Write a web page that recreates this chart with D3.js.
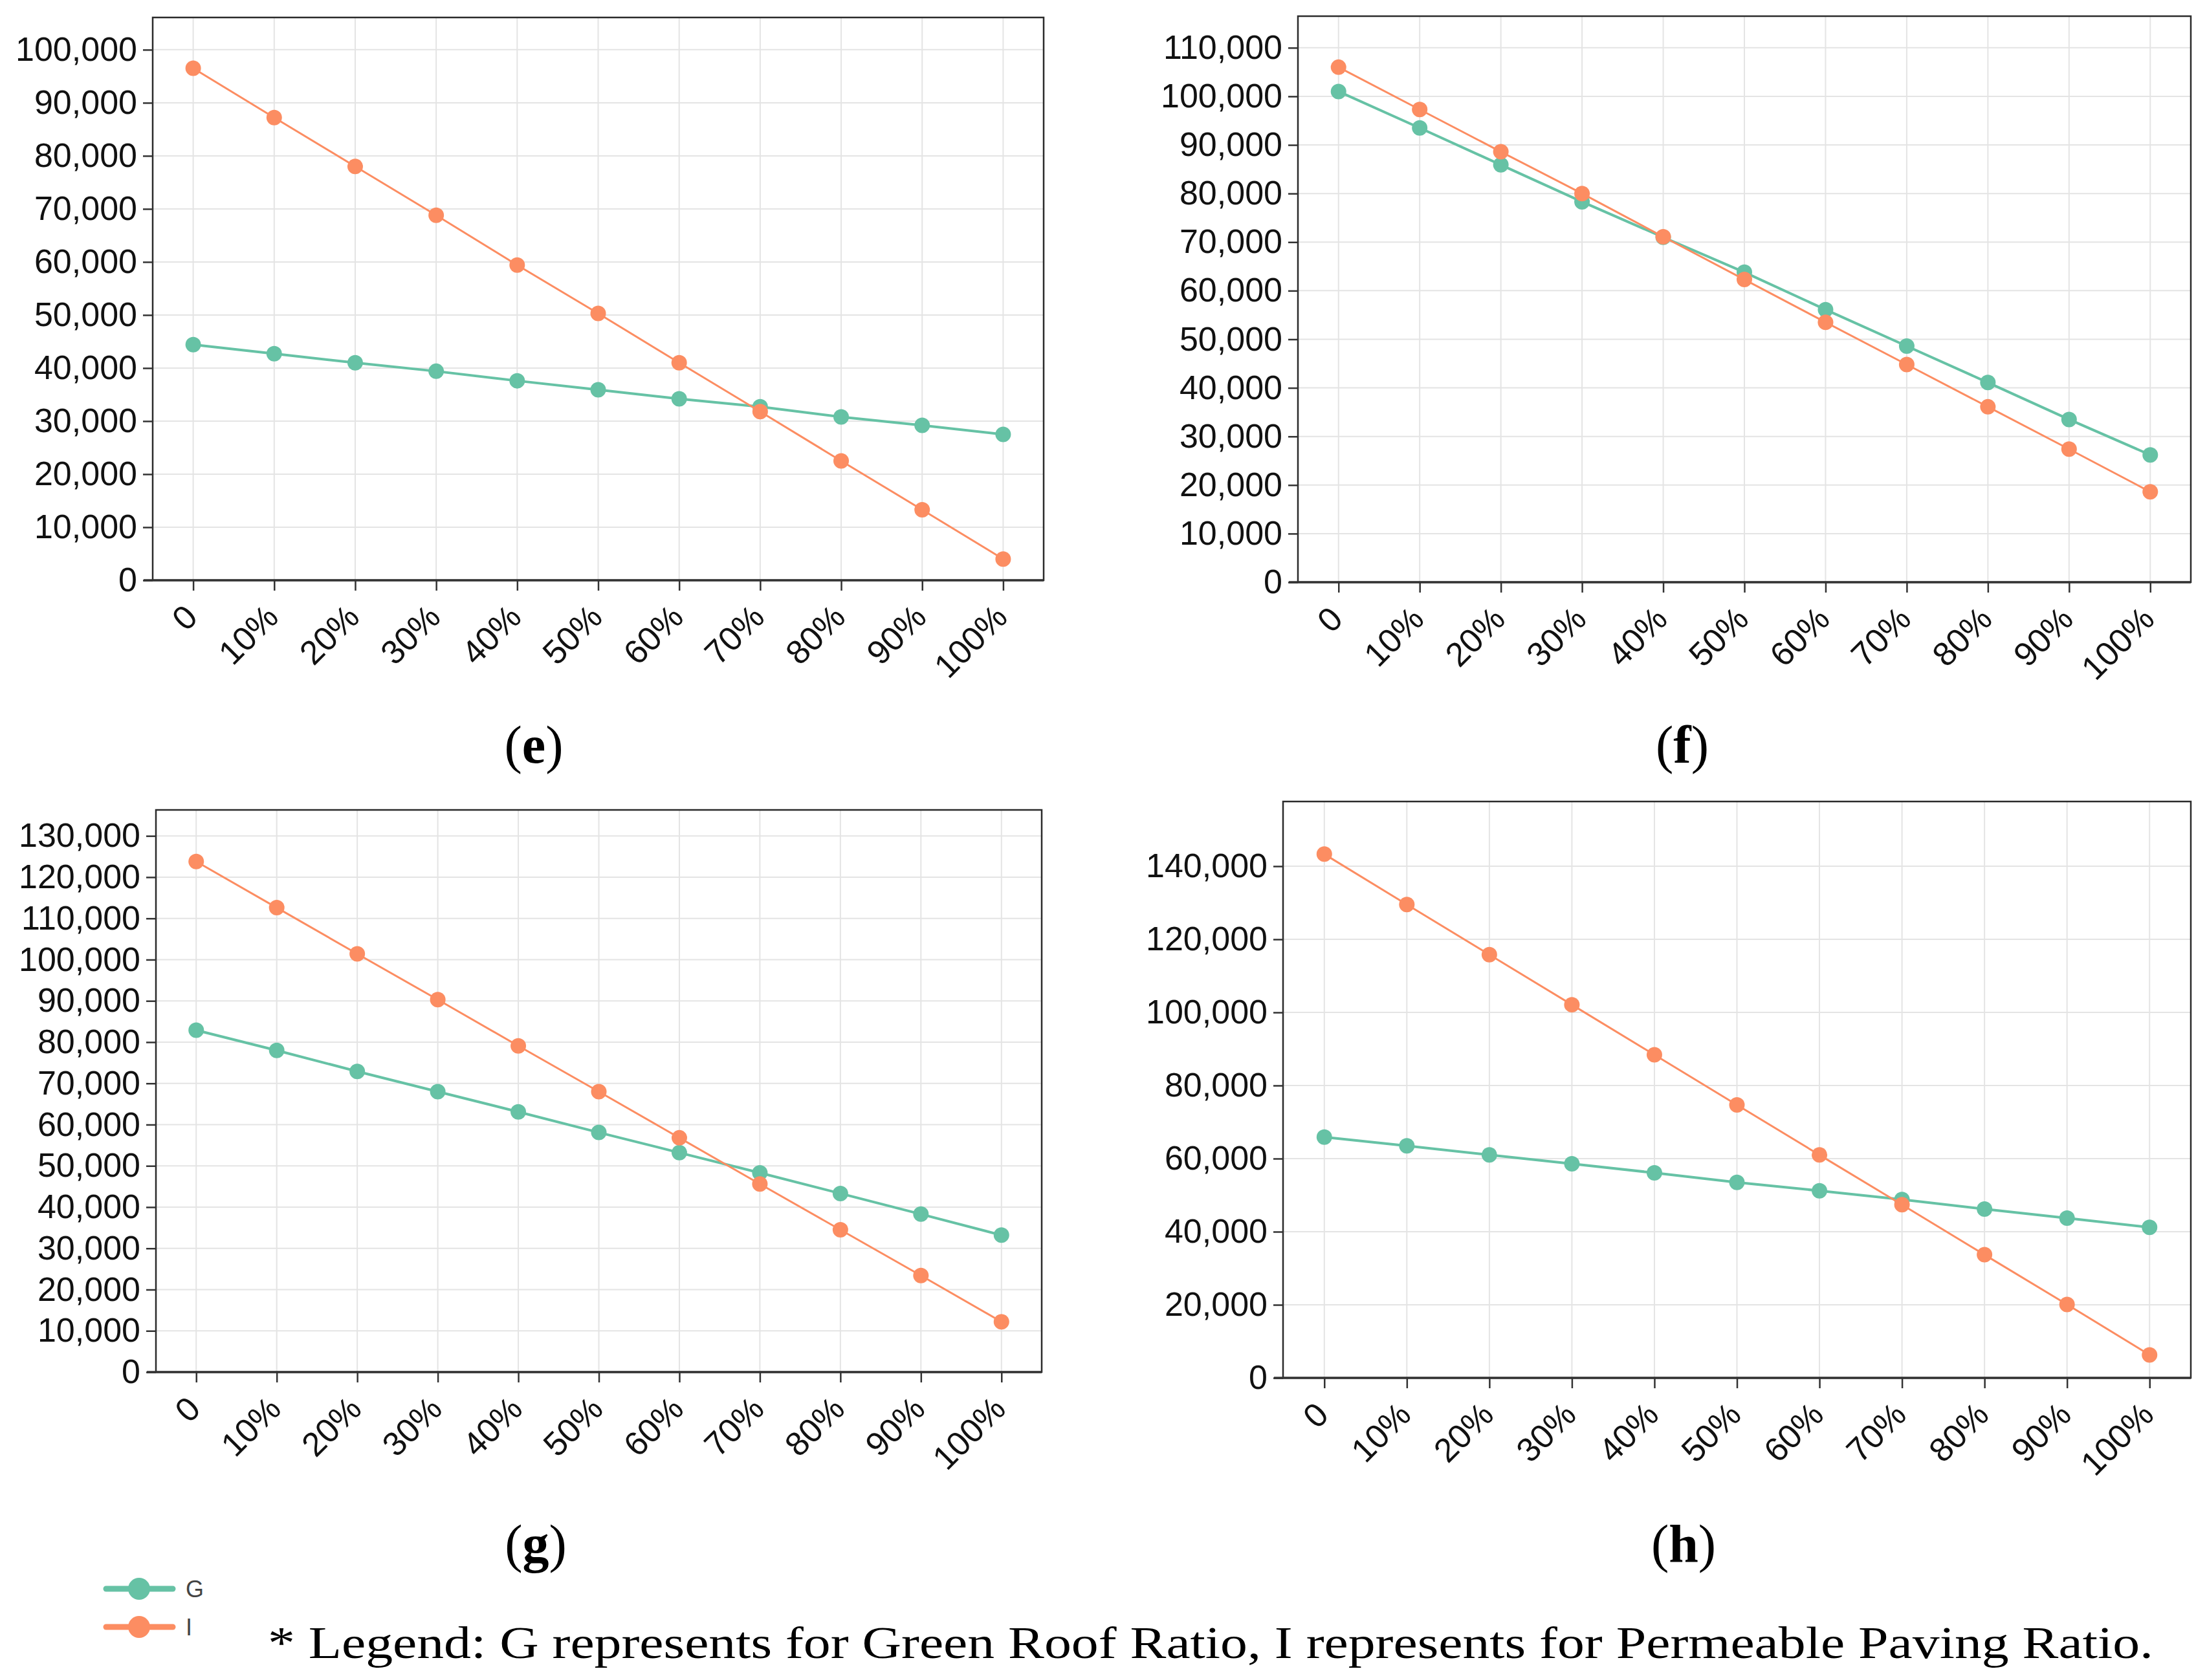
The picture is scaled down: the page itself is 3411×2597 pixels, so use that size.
<!DOCTYPE html>
<html>
<head>
<meta charset="utf-8">
<script src="https://cdn.jsdelivr.net/npm/d3@7"></script>
<style>
  body { margin: 0; background: #fff; }
  svg { display: block; }
  .tick text { font-family: "Liberation Sans", Arial, sans-serif; fill: #111; }
  .cap { font-family: "Palatino Linotype", "Book Antiqua", Palatino, "Liberation Serif", serif; fill: #000; }
</style>
</head>
<body>
<div id="chart"></div>
<script>
/**
 * DATA
 * */
const ratios = ["0", "10%", "20%", "30%", "40%", "50%", "60%", "70%", "80%", "90%", "100%"];

const eGreen = [44400, 42700, 41000, 39400, 37600, 35900, 34200, 32700, 30800, 29200, 27500];
const eInfil = [96500, 87200, 78000, 68800, 59400, 50300, 41000, 31800, 22500, 13300, 4000];

const fGreen = [101000, 93500, 85900, 78300, 71000, 63800, 56100, 48600, 41100, 33500, 26200];
const fInfil = [106000, 97300, 88600, 80000, 71100, 62300, 53500, 44800, 36100, 27400, 18600];

const gGreen = [82900, 78000, 72900, 68000, 63100, 58100, 53200, 48300, 43300, 38300, 33200];
const gInfil = [123800, 112600, 101400, 90300, 79100, 68000, 56800, 45600, 34500, 23400, 12200];

const hGreen = [65900, 63500, 61000, 58600, 56100, 53500, 51200, 48800, 46200, 43700, 41200];
const hInfil = [143300, 129500, 115800, 102100, 88400, 74700, 61000, 47400, 33700, 20100, 6300];

const eTicks = d3.range(0, 100001, 10000);
const fTicks = d3.range(0, 110001, 10000);
const gTicks = d3.range(0, 130001, 10000);
const hTicks = d3.range(0, 140001, 20000);

const seriesNames = ["G", "I"];
const footnote = "* Legend: G represents for Green Roof Ratio, I represents for Permeable Paving Ratio.";

/**
 * CONSTANTS
 * */
const width = 3411, height = 2597;
const colors = { G: "#66c2a5", I: "#fc8d62" };

const svg = d3.select("#chart")
  .append("svg")
  .attr("width", width)
  .attr("height", height);

svg.append("rect").attr("width", width).attr("height", height).attr("fill", "#fff");

// frame boxes of each panel
const panels = [
  { id: "e", box: [236, 27, 1613, 897], yMax: 106080, ticks: eTicks, G: eGreen, I: eInfil, capX: 825, capY: 1179 },
  { id: "f", box: [2006, 25, 3386, 900], yMax: 116500, ticks: fTicks, G: fGreen, I: fInfil, capX: 2600, capY: 1179 },
  { id: "g", box: [241, 1252, 1610, 2121], yMax: 136300, ticks: gTicks, G: gGreen, I: gInfil, capX: 828, capY: 2414 },
  { id: "h", box: [1983, 1239, 3386, 2130], yMax: 157700, ticks: hTicks, G: hGreen, I: hInfil, capX: 2602, capY: 2414 }
];

panels.forEach(drawPanel);
drawLegend();

function drawPanel(p) {
  const [x0, y0, x1, y1] = p.box;
  const g = svg.append("g").attr("class", "panel-" + p.id);

  const x = d3.scalePoint().domain(ratios).range([x0, x1]).padding(0.5);
  const y = d3.scaleLinear().domain([0, p.yMax]).range([y1, y0]);

  // grid
  g.append("g")
    .selectAll("line")
    .data(ratios)
    .join("line")
    .attr("x1", d => x(d)).attr("x2", d => x(d))
    .attr("y1", y0).attr("y2", y1)
    .attr("stroke", "#e4e4e4").attr("stroke-width", 2);

  g.append("g")
    .selectAll("line")
    .data(p.ticks.slice(1))
    .join("line")
    .attr("x1", x0).attr("x2", x1)
    .attr("y1", d => y(d)).attr("y2", d => y(d))
    .attr("stroke", "#e4e4e4").attr("stroke-width", 2);

  // frame
  g.append("rect")
    .attr("x", x0).attr("y", y0)
    .attr("width", x1 - x0).attr("height", y1 - y0)
    .attr("fill", "none").attr("stroke", "#2b2b2b").attr("stroke-width", 2.5);

  // y axis
  const yAxis = g.append("g")
    .attr("transform", `translate(${x0},0)`)
    .call(d3.axisLeft(y).tickValues(p.ticks).tickFormat(d3.format(",")).tickSize(15).tickPadding(9));
  yAxis.select(".domain").remove();
  yAxis.selectAll(".tick line").attr("stroke", "#333").attr("stroke-width", 2.5);
  yAxis.selectAll(".tick text").style("font-size", "52px");

  // x axis
  const xAxis = g.append("g")
    .attr("transform", `translate(0,${y1})`)
    .call(d3.axisBottom(x).tickSize(16).tickSizeOuter(0));
  xAxis.select(".domain").attr("stroke", "#333").attr("stroke-width", 3.5)
    .attr("d", `M${x0 - 14},0H${x1}`);
  xAxis.selectAll(".tick line").attr("stroke", "#333").attr("stroke-width", 2.5);
  xAxis.selectAll(".tick text")
    .style("font-size", "52px")
    .attr("x", 0).attr("y", 0).attr("dy", null)
    .attr("text-anchor", "end")
    .attr("transform", "translate(9,60) rotate(-45)");

  // series: G first, I drawn on top
  const line = d3.line().x((d, i) => x(ratios[i])).y(d => y(d));
  seriesNames.forEach(name => {
    const values = p[name];
    const s = g.append("g").attr("class", "series-" + name);
    s.append("path")
      .datum(values)
      .attr("d", line)
      .attr("fill", "none")
      .attr("stroke", colors[name])
      .attr("stroke-width", name === "G" ? 4 : 3);
    s.selectAll("circle")
      .data(values)
      .join("circle")
      .attr("cx", (d, i) => x(ratios[i]))
      .attr("cy", d => y(d))
      .attr("r", 12)
      .attr("fill", colors[name]);
  });

  // caption
  const cap = svg.append("text")
    .attr("class", "cap")
    .attr("x", p.capX).attr("y", p.capY)
    .attr("text-anchor", "middle")
    .style("font-size", "82px");
  cap.append("tspan").text("(");
  cap.append("tspan").attr("font-weight", "bold").text(p.id);
  cap.append("tspan").text(")");
}

function drawLegend() {
  const lg = svg.append("g").attr("class", "legend");
  seriesNames.forEach((name, i) => {
    const cy = 2456 + i * 59;
    lg.append("line")
      .attr("x1", 164).attr("x2", 267)
      .attr("y1", cy).attr("y2", cy)
      .attr("stroke", colors[name]).attr("stroke-width", 9)
      .attr("stroke-linecap", "round");
    lg.append("circle")
      .attr("cx", 215).attr("cy", cy).attr("r", 17)
      .attr("fill", colors[name]);
    lg.append("text")
      .attr("x", 287).attr("y", cy + 13)
      .style("font-family", "'Liberation Sans', Arial, sans-serif")
      .style("font-size", "36px")
      .attr("fill", "#444")
      .text(name);
  });

  svg.append("text")
    .attr("class", "cap")
    .attr("x", 414).attr("y", 2563)
    .style("font-size", "70px")
    .attr("textLength", 2914)
    .attr("lengthAdjust", "spacingAndGlyphs")
    .text(footnote);
}
</script>
</body>
</html>
